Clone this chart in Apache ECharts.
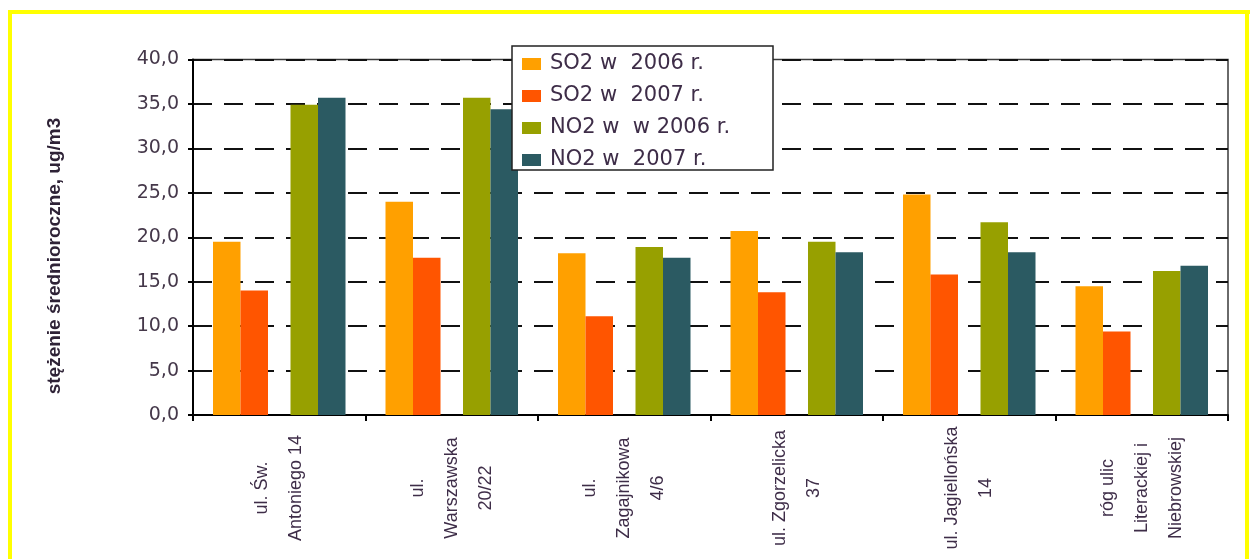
<!DOCTYPE html>
<html>
<head>
<meta charset="utf-8">
<script src="https://cdn.jsdelivr.net/npm/echarts@6/dist/echarts.min.js"></script>
<style>
  html, body { margin: 0; padding: 0; background: #fff; }
  #chart { width: 1250px; height: 559px; }
</style>
</head>
<body>
<div id="chart"></div>
<script>
// Measuring stations (x-axis categories)
const categories = [
  'ul. Św.\nAntoniego 14',
  'ul.\nWarszawska\n20/22',
  'ul.\nZagajnikowa\n4/6',
  'ul. Zgorzelicka\n37',
  'ul. Jagiellońska\n14',
  'róg ulic\nLiterackiej i\nNiebrowskiej'
];

// Series names as shown in the legend
const seriesNames = ['SO2 w  2006 r.', 'SO2 w  2007 r.', 'NO2 w  w 2006 r.', 'NO2 w  2007 r.'];

// Annual mean concentrations, ug/m3
const so2_2006 = [19.5, 24.0, 18.2, 20.7, 24.8, 14.5];
const so2_2007 = [14.0, 17.7, 11.1, 13.8, 15.8, 9.4];
const no2_2006 = [34.9, 35.7, 18.9, 19.5, 21.7, 16.2];
const no2_2007 = [35.7, 34.4, 17.7, 18.3, 18.3, 16.8];

// Y axis range
const yMin = 0, yMax = 40, yStep = 5;

const colors = ['#FFA000', '#FF5500', '#97A000', '#2B5A62'];
const labelColor = '#3e2d48';
const labelFont = '"Liberation Sans", Arial, sans-serif';

const chart = echarts.init(document.getElementById('chart'));

function barSeries(name, data, color) {
  return {
    name: name,
    type: 'bar',
    data: data,
    barWidth: 27.5,
    barGap: '0%',
    itemStyle: { color: color },
    z: 2
  };
}

const option = {
  animation: false,
  backgroundColor: '#ffffff',
  grid: {
    left: 193, right: 22, top: 59.5, bottom: 144,
    show: true,
    borderColor: '#3a3a3a',
    borderWidth: 1.5,
    backgroundColor: 'transparent'
  },
  legend: {
    data: seriesNames,
    orient: 'vertical',
    left: 512,
    top: 47,
    padding: [6, 8, 3, 10],
    itemGap: 10,
    itemWidth: 19,
    itemHeight: 12,
    icon: 'rect',
    z: 5,
    textStyle: {
      fontFamily: 'DejaVu Sans',
      fontSize: 21,
      lineHeight: 22,
      color: labelColor,
      padding: [0, 0, 0, 4]
    }
  },
  xAxis: {
    type: 'category',
    data: categories,
    boundaryGap: true,
    axisLine: { show: true, lineStyle: { color: '#000', width: 2 } },
    axisTick: { show: true, alignWithLabel: false, length: 6, lineStyle: { color: '#000', width: 2 } },
    axisLabel: {
      interval: 0,
      rotate: 90,
      align: 'center',
      verticalAlign: 'middle',
      margin: 73,
      lineHeight: 34,
      fontFamily: labelFont,
      fontSize: 18,
      color: labelColor
    },
    splitLine: { show: false }
  },
  yAxis: {
    type: 'value',
    min: yMin,
    max: yMax,
    interval: yStep,
    axisLine: { show: true, lineStyle: { color: '#000', width: 2 } },
    axisTick: { show: true, length: 5, lineStyle: { color: '#000', width: 2 } },
    axisLabel: {
      margin: 14,
      fontFamily: 'DejaVu Sans',
      fontSize: 19,
      color: '#45384a',
      formatter: v => v.toFixed(1).replace('.', ',')
    },
    splitLine: {
      show: true,
      lineStyle: { color: '#111', width: 2, type: [19, 12], dashOffset: 0 }
    }
  },
  graphic: [
    // Y axis title
    {
      type: 'text',
      x: 55, y: 256,
      rotation: Math.PI / 2,
      style: {
        text: 'stężenie średnioroczne, ug/m3',
        font: 'bold 19px "Liberation Sans", Arial, sans-serif',
        fill: '#2e2236',
        align: 'center',
        verticalAlign: 'middle'
      }
    },
    // Legend frame
    {
      type: 'rect',
      z: 3,
      shape: { x: 512, y: 46, width: 261, height: 124 },
      style: { fill: '#ffffff', stroke: '#222', lineWidth: 1.5 }
    },
    // Yellow outer frame
    { type: 'rect', z: 10, shape: { x: 8, y: 10, width: 1242, height: 4 }, style: { fill: '#FFFF00' } },
    { type: 'rect', z: 10, shape: { x: 8, y: 10, width: 4, height: 549 }, style: { fill: '#FFFF00' } },
    { type: 'rect', z: 10, shape: { x: 1245, y: 10, width: 4, height: 549 }, style: { fill: '#FFFF00' } }
  ],
  series: [
    barSeries(seriesNames[0], so2_2006, colors[0]),
    barSeries(seriesNames[1], so2_2007, colors[1]),
    // empty slot separating the SO2 pair from the NO2 pair
    { name: 'gap', type: 'bar', data: categories.map(() => null), barWidth: 22.5, barGap: '0%' },
    barSeries(seriesNames[2], no2_2006, colors[2]),
    barSeries(seriesNames[3], no2_2007, colors[3])
  ]
};

chart.setOption(option);
</script>
</body>
</html>
